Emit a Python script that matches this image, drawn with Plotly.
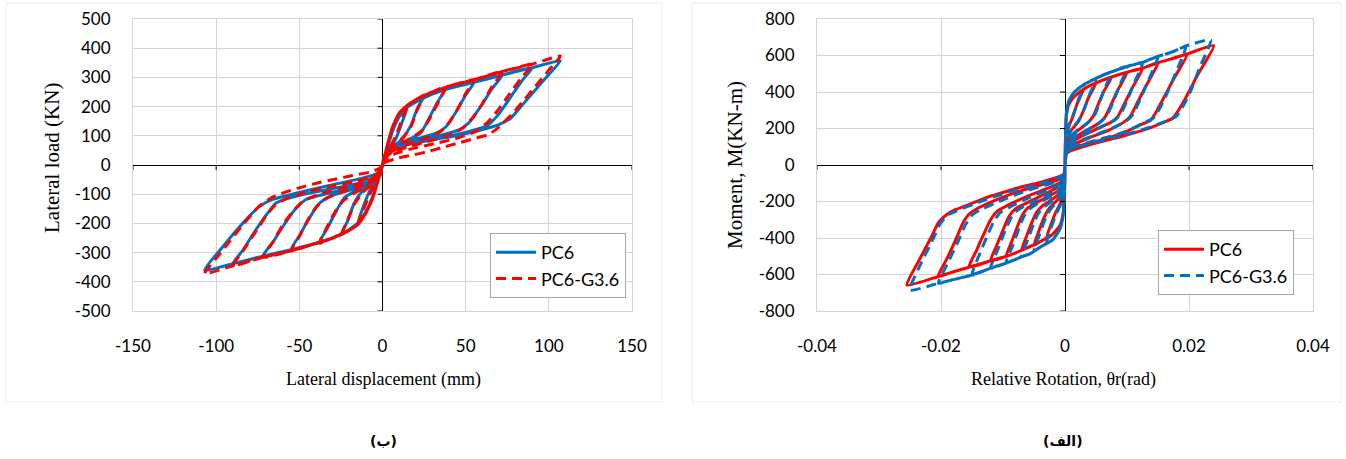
import plotly.graph_objects as go

# ---------------- tick values ----------------
DISP_TICKS = [-150, -100, -50, 0, 50, 100, 150]
LOAD_TICKS = [-500, -400, -300, -200, -100, 0, 100, 200, 300, 400, 500]
ROT_TICKS = [-0.04, -0.02, 0, 0.02, 0.04]
ROT_TICKTEXT = ["-0.04", "-0.02", "0", "0.02", "0.04"]
MOM_TICKS = [-800, -600, -400, -200, 0, 200, 400, 600, 800]

# ================= LEFT PANEL: lateral load (kN) vs displacement (mm) =================
# ---- PC6 (blue solid) ----
L_PC6_ENV_POS = [(0, 0), (3, 60), (6, 115), (10, 165), (15, 198), (22, 222), (30, 243),
                 (40, 262), (55, 283), (72, 308), (90, 333), (107, 357)]
L_PC6_ENV_NEG = [(0, 0), (-3, -55), (-6, -110), (-10, -160), (-15, -200), (-22, -228), (-30, -250),
                 (-40, -268), (-55, -290), (-72, -312), (-90, -338), (-107, -360)]
L_PC6_UNLOAD_POS = [
    [(15, 198), (12, 150), (8, 90), (4, 55), (1, 20)],
    [(25, 235), (21, 195), (17, 135), (12, 90), (6, 60), (1, 25)],
    [(38, 262), (33, 215), (28, 160), (23, 110), (15, 85), (8, 68), (2, 40)],
    [(55, 283), (50, 240), (44, 180), (38, 130), (32, 108), (22, 92), (12, 76), (5, 58), (1, 30)],
    [(72, 308), (66, 262), (59, 200), (52, 145), (46, 120), (35, 102), (22, 86), (10, 66), (2, 38)],
    [(90, 333), (84, 290), (77, 232), (70, 175), (63, 135), (52, 115), (38, 97), (22, 80), (8, 62), (2, 35)],
    [(107, 357), (100, 310), (92, 258), (84, 205), (77, 160), (70, 138), (58, 118), (44, 100), (28, 84),
     (12, 65), (3, 40)],
]
L_PC6_UNLOAD_NEG = [
    [(-15, -200), (-12, -150), (-8, -92), (-4, -52), (-1, -18)],
    [(-25, -240), (-21, -192), (-17, -130), (-12, -88), (-6, -58), (-1, -22)],
    [(-38, -266), (-33, -215), (-28, -160), (-23, -112), (-15, -85), (-8, -66), (-2, -38)],
    [(-55, -290), (-50, -242), (-44, -182), (-38, -132), (-32, -108), (-22, -90), (-12, -72), (-5, -54), (-1, -28)],
    [(-72, -312), (-66, -265), (-59, -203), (-52, -148), (-46, -118), (-35, -100), (-22, -82), (-10, -62), (-2, -35)],
    [(-90, -338), (-84, -292), (-77, -230), (-70, -172), (-64, -130), (-54, -110), (-40, -92), (-24, -74),
     (-9, -56), (-2, -32)],
    [(-107, -360), (-96, -280), (-88, -225), (-80, -175), (-74, -142), (-66, -118), (-52, -97), (-32, -70),
     (-12, -45), (-3, -28)],
]

# ---- PC6-G3.6 (red dashed) ----
L_G36_ENV_POS = [(0, 0), (3, 70), (6, 130), (10, 178), (15, 205), (22, 230), (30, 250),
                 (40, 270), (55, 292), (72, 320), (90, 345), (107, 373)]
L_G36_ENV_NEG = [(0, 0), (-3, -60), (-6, -115), (-10, -165), (-15, -205), (-22, -230), (-30, -250),
                 (-42, -272), (-55, -294), (-72, -316), (-90, -345), (-107, -372)]
L_G36_UNLOAD_POS = [
    [(15, 205), (12, 160), (8, 100), (4, 55), (1, 18)],
    [(25, 240), (21, 190), (17, 130), (12, 92), (6, 62), (1, 28)],
    [(38, 268), (34, 220), (29, 165), (24, 120), (18, 95), (10, 70), (4, 45), (1, 18)],
    [(55, 292), (50, 245), (45, 190), (40, 145), (35, 115), (25, 90), (14, 68), (6, 48), (1, 22)],
    [(72, 320), (66, 270), (60, 210), (54, 160), (48, 125), (40, 102), (28, 82), (15, 62), (6, 44), (1, 20)],
    [(90, 345), (83, 295), (76, 240), (69, 185), (63, 145), (56, 115), (45, 92), (32, 74), (18, 56),
     (8, 40), (1, 15)],
    [(107, 373), (100, 325), (92, 270), (84, 215), (78, 175), (70, 130), (64, 105), (55, 90), (46, 76),
     (36, 60), (26, 44), (16, 32), (8, 22), (2, 10)],
]
L_G36_UNLOAD_NEG = [
    [(-15, -205), (-12, -160), (-8, -105), (-4, -58), (-1, -20)],
    [(-25, -242), (-21, -190), (-17, -135), (-12, -95), (-6, -65), (-1, -30)],
    [(-38, -268), (-34, -220), (-29, -165), (-24, -125), (-18, -100), (-10, -75), (-4, -48), (-1, -18)],
    [(-55, -294), (-50, -245), (-45, -190), (-40, -145), (-34, -115), (-24, -92), (-13, -72), (-5, -48), (-1, -18)],
    [(-72, -316), (-66, -265), (-60, -205), (-54, -160), (-48, -125), (-38, -100), (-24, -78), (-12, -60),
     (-4, -38), (-1, -15)],
    [(-90, -345), (-84, -295), (-77, -235), (-70, -175), (-65, -140), (-58, -115), (-45, -92), (-30, -72),
     (-15, -55), (-5, -38), (-1, -15)],
    [(-107, -372), (-100, -320), (-92, -262), (-84, -205), (-78, -165), (-74, -140), (-66, -110), (-58, -92),
     (-48, -75), (-38, -60), (-28, -48), (-18, -36), (-8, -25), (-2, -12)],
]

# ================= RIGHT PANEL: moment (kN-m) vs relative rotation (rad) =================
# ---- PC6 (red solid) ----
R_PC6_ENV_POS = [(0, 0), (0.0001, 150), (0.0002, 260), (0.0006, 330), (0.0015, 375), (0.003, 415),
                 (0.005, 450), (0.0075, 482), (0.01, 508), (0.0125, 530), (0.015, 560), (0.0175, 585),
                 (0.0197, 608), (0.024, 654)]
R_PC6_ENV_NEG = [(0, 0), (-0.0001, -150), (-0.0003, -260), (-0.0008, -330), (-0.002, -380), (-0.004, -420),
                 (-0.0065, -460), (-0.009, -495), (-0.012, -525), (-0.0155, -560), (-0.018, -585),
                 (-0.0205, -612), (-0.0255, -658)]
R_PC6_UNLOAD_POS = [
    [(0.003, 415), (0.002, 340), (0.0012, 260), (0.0005, 200), (0.0001, 140)],
    [(0.005, 450), (0.0038, 370), (0.003, 300), (0.0022, 240), (0.001, 190), (0.0002, 130)],
    [(0.0075, 482), (0.0062, 400), (0.0052, 320), (0.0045, 265), (0.0035, 225), (0.0015, 175), (0.0002, 120)],
    [(0.01, 508), (0.0085, 410), (0.0073, 320), (0.0065, 265), (0.0055, 230), (0.003, 180), (0.001, 140),
     (0.0002, 100)],
    [(0.0125, 530), (0.0108, 420), (0.0095, 330), (0.0085, 265), (0.0075, 235), (0.005, 195), (0.0025, 155),
     (0.0003, 100)],
    [(0.015, 560), (0.013, 430), (0.0115, 330), (0.0105, 265), (0.0095, 235), (0.007, 190), (0.004, 150),
     (0.0015, 115), (0.0003, 80)],
    [(0.0197, 608), (0.0175, 470), (0.0158, 360), (0.0147, 290), (0.0138, 245), (0.0125, 225), (0.009, 170),
     (0.005, 130), (0.002, 100), (0.0003, 70)],
    [(0.024, 654), (0.0215, 500), (0.0195, 370), (0.0183, 300), (0.0173, 255), (0.016, 235), (0.013, 195),
     (0.009, 155), (0.005, 120), (0.002, 90), (0.0003, 65)],
]
R_PC6_UNLOAD_NEG = [
    [(-0.003, -400), (-0.0023, -330), (-0.0015, -260), (-0.0006, -200), (-0.0001, -150)],
    [(-0.005, -440), (-0.0042, -360), (-0.0034, -290), (-0.0025, -235), (-0.0012, -190), (-0.0002, -140)],
    [(-0.007, -465), (-0.0062, -390), (-0.0053, -310), (-0.0045, -255), (-0.0035, -220), (-0.0015, -175),
     (-0.0002, -125)],
    [(-0.0095, -500), (-0.0086, -420), (-0.0076, -330), (-0.0068, -270), (-0.006, -235), (-0.004, -195),
     (-0.0015, -150), (-0.0002, -110)],
    [(-0.012, -525), (-0.011, -440), (-0.0098, -340), (-0.009, -280), (-0.008, -240), (-0.006, -205),
     (-0.003, -155), (-0.0003, -100)],
    [(-0.0155, -560), (-0.0143, -470), (-0.013, -370), (-0.012, -300), (-0.011, -255), (-0.0095, -225),
     (-0.006, -170), (-0.003, -130), (-0.0003, -85)],
    [(-0.0205, -612), (-0.019, -510), (-0.0175, -400), (-0.0165, -320), (-0.0155, -270), (-0.0142, -240),
     (-0.011, -190), (-0.007, -140), (-0.003, -100), (-0.0003, -70)],
    [(-0.0255, -658), (-0.0235, -520), (-0.0215, -390), (-0.0204, -315), (-0.019, -270), (-0.0177, -245),
     (-0.015, -210), (-0.0123, -174), (-0.009, -140), (-0.0069, -119), (-0.004, -95), (-0.001, -64),
     (-0.0002, -50)],
]

# ---- PC6-G3.6 (blue dashed) ----
R_G36_ENV_POS = [(0, 0), (0.0001, 170), (0.0002, 280), (0.0006, 350), (0.0015, 400), (0.003, 440),
                 (0.005, 475), (0.0075, 510), (0.01, 540), (0.0125, 562), (0.015, 595), (0.0175, 622),
                 (0.0195, 652), (0.0235, 685)]
R_G36_ENV_NEG = [(0, 0), (-0.0001, -170), (-0.0003, -280), (-0.0008, -350), (-0.002, -410), (-0.004, -450),
                 (-0.0055, -484), (-0.0075, -510), (-0.0096, -539), (-0.012, -565), (-0.015, -603),
                 (-0.018, -628), (-0.0204, -648), (-0.025, -685)]
R_G36_UNLOAD_POS = [
    [(0.003, 440), (0.0022, 360), (0.0014, 280), (0.0006, 215), (0.0001, 150)],
    [(0.005, 475), (0.004, 390), (0.0032, 315), (0.0024, 255), (0.0012, 200), (0.0002, 140)],
    [(0.0075, 510), (0.0064, 420), (0.0055, 335), (0.0048, 275), (0.0038, 235), (0.0018, 185), (0.0002, 125)],
    [(0.01, 540), (0.0088, 435), (0.0077, 340), (0.0069, 280), (0.0059, 240), (0.0035, 190), (0.0012, 150),
     (0.0002, 105)],
    [(0.0125, 562), (0.0111, 445), (0.0099, 345), (0.009, 280), (0.008, 245), (0.0055, 205), (0.0028, 165),
     (0.0003, 110)],
    [(0.015, 595), (0.0134, 460), (0.012, 350), (0.011, 280), (0.01, 245), (0.0075, 200), (0.0045, 160),
     (0.0018, 125), (0.0003, 90)],
    [(0.0195, 652), (0.0178, 500), (0.0163, 380), (0.0152, 305), (0.0143, 258), (0.013, 235), (0.0095, 180),
     (0.0055, 140), (0.0022, 108), (0.0003, 78)],
    [(0.0235, 685), (0.0218, 540), (0.0202, 400), (0.019, 320), (0.018, 268), (0.0167, 245), (0.0135, 205),
     (0.0095, 165), (0.0055, 130), (0.0022, 100), (0.0003, 72)],
]
R_G36_UNLOAD_NEG = [
    [(-0.003, -430), (-0.0023, -350), (-0.0015, -275), (-0.0006, -210), (-0.0001, -155)],
    [(-0.005, -470), (-0.0041, -380), (-0.0033, -305), (-0.0024, -245), (-0.0011, -195), (-0.0002, -145)],
    [(-0.007, -500), (-0.006, -410), (-0.0051, -325), (-0.0043, -265), (-0.0033, -228), (-0.0014, -180),
     (-0.0002, -130)],
    [(-0.0095, -535), (-0.0084, -440), (-0.0074, -345), (-0.0066, -280), (-0.0057, -240), (-0.0038, -200),
     (-0.0014, -155), (-0.0002, -112)],
    [(-0.012, -565), (-0.0108, -460), (-0.0096, -355), (-0.0087, -290), (-0.0077, -248), (-0.0057, -210),
     (-0.0028, -160), (-0.0003, -105)],
    [(-0.015, -603), (-0.0138, -490), (-0.0125, -385), (-0.0115, -310), (-0.0105, -262), (-0.009, -232),
     (-0.0057, -178), (-0.0028, -135), (-0.0003, -90)],
    [(-0.0204, -648), (-0.0188, -530), (-0.0172, -415), (-0.0161, -330), (-0.0151, -278), (-0.0138, -248),
     (-0.0105, -198), (-0.0068, -148), (-0.003, -108), (-0.0003, -75)],
    [(-0.025, -685), (-0.0231, -530), (-0.0212, -400), (-0.0201, -320), (-0.0188, -272), (-0.0174, -250),
     (-0.0148, -215), (-0.012, -180), (-0.0088, -146), (-0.0066, -124), (-0.0038, -100), (-0.001, -68),
     (-0.0002, -55)],
]


def hysteresis_path(env_pos, unl_pos, env_neg, unl_neg):
    """Chain the read points cycle by cycle: envelope up to the peak, unloading branch,
    then the same for the negative half."""
    xs, ys = [], []
    for up, un in zip(unl_pos, unl_neg):
        peak = abs(up[0][0])
        for x, y in env_pos:
            if abs(x) < peak:
                xs.append(x); ys.append(y)
        for x, y in up:
            xs.append(x); ys.append(y)
        peak = abs(un[0][0])
        for x, y in env_neg:
            if abs(x) < peak:
                xs.append(x); ys.append(y)
        for x, y in un:
            xs.append(x); ys.append(y)
    xs.append(0); ys.append(0)
    return xs, ys


BLUE = "#0070C0"
RED = "#FF0000"
LW = 3
DASH = "10px,6px"
TICK_FONT = dict(family="Lato", size=17, color="#000000")
TITLE_FONT = dict(family="Liberation Serif", size=18, color="#000000")
YTITLE_FONT = dict(family="Liberation Serif", size=21, color="#000000")
GRID = "#D4D4D4"

fig = go.Figure()

x, y = hysteresis_path(L_PC6_ENV_POS, L_PC6_UNLOAD_POS, L_PC6_ENV_NEG, L_PC6_UNLOAD_NEG)
fig.add_trace(go.Scatter(x=x, y=y, mode="lines", name="PC6", xaxis="x", yaxis="y", legend="legend",
                         line=dict(color=BLUE, width=LW, shape="spline", smoothing=0.5)))
x, y = hysteresis_path(L_G36_ENV_POS, L_G36_UNLOAD_POS, L_G36_ENV_NEG, L_G36_UNLOAD_NEG)
fig.add_trace(go.Scatter(x=x, y=y, mode="lines", name="PC6-G3.6", xaxis="x", yaxis="y", legend="legend",
                         line=dict(color=RED, width=LW, dash=DASH, shape="spline", smoothing=0.5)))

x, y = hysteresis_path(R_PC6_ENV_POS, R_PC6_UNLOAD_POS, R_PC6_ENV_NEG, R_PC6_UNLOAD_NEG)
fig.add_trace(go.Scatter(x=x, y=y, mode="lines", name="PC6", xaxis="x2", yaxis="y2", legend="legend2",
                         line=dict(color=RED, width=LW, shape="spline", smoothing=0.5)))
x, y = hysteresis_path(R_G36_ENV_POS, R_G36_UNLOAD_POS, R_G36_ENV_NEG, R_G36_UNLOAD_NEG)
fig.add_trace(go.Scatter(x=x, y=y, mode="lines", name="PC6-G3.6", xaxis="x2", yaxis="y2", legend="legend2",
                         line=dict(color=BLUE, width=LW, dash=DASH, shape="spline", smoothing=0.5)))

W, H = 1346, 459


def px_x(p):
    return p / W


def px_y(p):
    return 1 - p / H


def xaxis_common(domain, rng, tickvals, ticktext, anchor):
    return dict(domain=domain, range=rng, tickvals=tickvals, ticktext=ticktext, anchor=anchor,
                showgrid=True, gridcolor=GRID, gridwidth=1, zeroline=True, zerolinecolor="#000000",
                zerolinewidth=1, showline=True, linecolor=GRID, mirror=True, ticks="",
                tickfont=TICK_FONT, ticklabelstandoff=20, automargin=False, fixedrange=True)


def yaxis_common(domain, rng, tickvals, anchor):
    return dict(domain=domain, range=rng, tickvals=tickvals, ticktext=[str(v) for v in tickvals],
                anchor=anchor, showgrid=True, gridcolor=GRID, gridwidth=1, zeroline=True,
                zerolinecolor="#000000", zerolinewidth=1, showline=True, linecolor=GRID, mirror=True,
                ticks="", tickfont=TICK_FONT, ticklabelstandoff=18, automargin=False, fixedrange=True)


ydom = [px_y(311), px_y(19)]
LEG_FONT = dict(family="Lato", size=18, color="#000000")
fig.update_layout(
    width=W, height=H, margin=dict(l=0, r=0, t=0, b=0, autoexpand=False),
    paper_bgcolor="#FFFFFF", plot_bgcolor="#FFFFFF",
    xaxis=xaxis_common([px_x(133), px_x(632)], [-150, 150], DISP_TICKS, [str(v) for v in DISP_TICKS], "y"),
    yaxis=yaxis_common(ydom, [-500, 500], LOAD_TICKS, "x"),
    xaxis2=xaxis_common([px_x(817), px_x(1313)], [-0.04, 0.04], ROT_TICKS, ROT_TICKTEXT, "y2"),
    yaxis2=yaxis_common(ydom, [-800, 800], MOM_TICKS, "x2"),
    legend=dict(x=px_x(490), y=px_y(233), xanchor="left", yanchor="top", bgcolor="#FFFFFF",
                bordercolor="#A6A6A6", borderwidth=1, font=LEG_FONT, itemwidth=40, tracegroupgap=0),
    legend2=dict(x=px_x(1158), y=px_y(230), xanchor="left", yanchor="top", bgcolor="#FFFFFF",
                 bordercolor="#A6A6A6", borderwidth=1, font=LEG_FONT, itemwidth=40, tracegroupgap=0),
    showlegend=True,
    hovermode=False,
)

# faint panel frames
fig.add_shape(type="rect", xref="paper", yref="paper", x0=px_x(6), x1=px_x(662), y0=px_y(402), y1=px_y(3),
              line=dict(color="#EDEDED", width=1), layer="below")
fig.add_shape(type="rect", xref="paper", yref="paper", x0=px_x(692), x1=px_x(1341), y0=px_y(402), y1=px_y(3),
              line=dict(color="#EDEDED", width=1), layer="below")

# small black tick marks on the axes that cross at zero (Excel style)
for xr, yr, xt, yt in [("x", "y", DISP_TICKS, LOAD_TICKS), ("x2", "y2", ROT_TICKS, MOM_TICKS)]:
    for v in xt:
        if v != 0:
            fig.add_shape(type="line", xref=xr, yref=yr, x0=v, x1=v, ysizemode="pixel", yanchor=0,
                          y0=0, y1=-5, line=dict(color="#000000", width=1))
    for v in yt:
        if v != 0:
            fig.add_shape(type="line", xref=xr, yref=yr, y0=v, y1=v, xsizemode="pixel", xanchor=0,
                          x0=-5, x1=0, line=dict(color="#000000", width=1))

CAPTION_FONT = dict(family="DejaVu Sans", size=14, color="#000000", weight="bold")
annotations = [
    dict(text="Lateral displacement (mm)", x=px_x(383), y=px_y(379), font=TITLE_FONT),
    dict(text="Relative Rotation, θr(rad)", x=px_x(1063), y=px_y(379), font=TITLE_FONT),
    dict(text="Lateral load (KN)", x=px_x(52), y=px_y(158), font=YTITLE_FONT, textangle=-90),
    dict(text="Moment, M(KN-m)", x=px_x(735), y=px_y(165), font=YTITLE_FONT, textangle=-90),
    dict(text="(ب)", x=px_x(383), y=px_y(441), font=CAPTION_FONT),
    dict(text="(الف)", x=px_x(1063), y=px_y(441), font=CAPTION_FONT),
]
for a in annotations:
    fig.add_annotation(xref="paper", yref="paper", showarrow=False, xanchor="center", yanchor="middle", **a)

fig.write_html("out.html", config={"displayModeBar": False, "staticPlot": True},
               post_script="document.body.style.margin='0';document.body.style.overflow='hidden';")
